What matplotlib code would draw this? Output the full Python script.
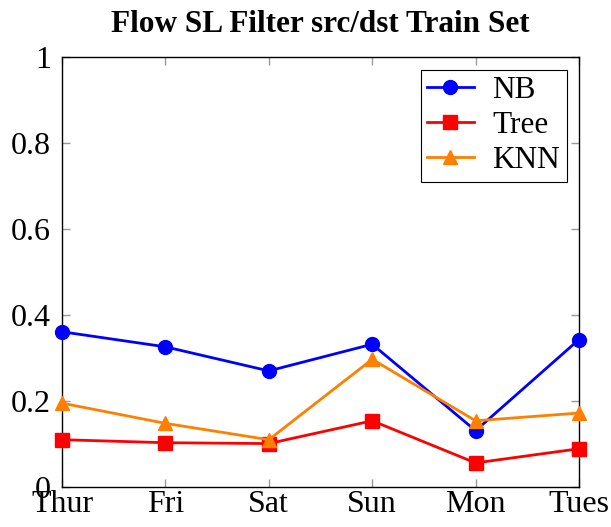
import matplotlib
matplotlib.use("Agg")
import matplotlib.pyplot as plt

days = ["Thur", "Fri", "Sat", "Sun", "Mon", "Tues"]
nb = [0.361, 0.326, 0.270, 0.332, 0.131, 0.343]
tree = [0.110, 0.103, 0.101, 0.154, 0.056, 0.089]
knn = [0.195, 0.148, 0.110, 0.297, 0.154, 0.172]
yticks = [0, 0.2, 0.4, 0.6, 0.8, 1]
ytick_labels = ["0", "0.2", "0.4", "0.6", "0.8", "1"]

plt.rcParams['font.family'] = ['Liberation Serif', 'DejaVu Serif']

fig = plt.figure(figsize=(6.11, 5.27), dpi=100)
ax = fig.add_axes([62/611, 40/527, (579-62)/611, (487-57)/527])

x = list(range(len(days)))
lw = 2.0
ax.plot(x, nb, color=(0, 0, 1), marker='o', markersize=10, lw=lw, label='NB', clip_on=False, zorder=3)
ax.plot(x, tree, color=(1, 0, 0), marker='s', markersize=9.5, lw=lw, label='Tree', clip_on=False, zorder=3)
ax.plot(x, knn, color=(1, 0.5, 0), marker='^', markersize=10, lw=lw, label='KNN', clip_on=False, zorder=3)

ax.set_xlim(0, len(days) - 1)
ax.set_ylim(0, 1)
ax.set_xticks(x)
ax.set_xticklabels(days)
ax.set_yticks(yticks)
ax.set_yticklabels(ytick_labels)
ax.tick_params(direction='in', top=True, right=True, length=6, width=1, color='#999999', labelsize=23)
ax.tick_params(axis='y', pad=8)
ax.tick_params(axis='x', pad=2)
for s in ax.spines.values():
    s.set_linewidth(1)
    s.set_color('black')

ax.set_title('Flow SL Filter src/dst Train Set', fontsize=22.5, fontweight='bold', pad=18)

leg = ax.legend(loc='upper right', fontsize=22.5, frameon=True, fancybox=False, edgecolor='black',
                framealpha=1, handlelength=1.5, borderpad=0.2, labelspacing=0.2, handletextpad=0.6,
                borderaxespad=0.4)
leg.get_frame().set_linewidth(0.8)

fig.savefig('out.png', dpi=100)
